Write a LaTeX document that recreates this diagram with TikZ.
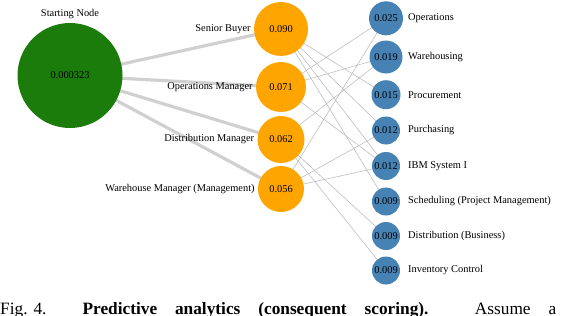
\documentclass[tikz,border=0pt]{standalone}
\usepackage{fontspec}
\setmainfont{Liberation Serif}
\usepackage{tikz}
\usetikzlibrary{positioning,backgrounds}
\definecolor{startgreen}{HTML}{1B7B0B}
\definecolor{roleorange}{HTML}{FFA500}
\definecolor{skillblue}{HTML}{4682B4}
\definecolor{edgegray}{HTML}{D0D0D0}
\definecolor{linkgray}{HTML}{BEBEBE}
\tikzset{
  nd/.style={circle,inner sep=0pt,font=\fontsize{10.4}{12}\selectfont},
  startn/.style={nd,fill=startgreen},
  rolen/.style={nd,fill=roleorange},
  skilln/.style={nd,fill=skillblue},
  lbl/.style={inner sep=0pt,font=\fontsize{10.4}{12}\selectfont},
  wt/.style={line width=3.2pt,draw=edgegray},
  ln/.style={line width=0.6pt,draw=linkgray},
}

\begin{document}
\begin{tikzpicture}[x=1pt,y=-1pt]
  \clip (0,0) rectangle (574,316);
  % start node
  \node[startn,minimum size=105pt] (s) at (70,75.5) {0.000323};
  \node[lbl,above=4pt of s] (sl) {Starting Node};
  % job titles
  \node[rolen,minimum size=54pt] (r1) at (281,29) {0.090};
  \node[rolen,minimum size=50pt] (r2) at (281,87) {0.071};
  \node[rolen,minimum size=47pt] (r3) at (281,139.5) {0.062};
  \node[rolen,minimum size=46pt] (r4) at (281,189) {0.056};
  \node[lbl,left=3pt of r1] (rl1) {Senior Buyer};
  \node[lbl,left=3pt of r2] (rl2) {Operations Manager};
  \node[lbl,left=3pt of r3] (rl3) {Distribution Manager};
  \node[lbl,left=3pt of r4] (rl4) {Warehouse Manager (Management)};
  % skills
  \node[skilln,minimum size=34pt] (k1) at (386,18.3) {0.025};
  \node[skilln,minimum size=33pt] (k2) at (386,57) {0.019};
  \node[skilln,minimum size=29pt] (k3) at (386,94.7) {0.015};
  \node[skilln,minimum size=28pt] (k4) at (386,130.5) {0.012};
  \node[skilln,minimum size=28pt] (k5) at (386,166) {0.012};
  \node[skilln,minimum size=28pt] (k6) at (386,201.5) {0.009};
  \node[skilln,minimum size=28pt] (k7) at (386,236) {0.009};
  \node[skilln,minimum size=28pt] (k8) at (386,270.5) {0.009};
  \node[lbl,right=22pt of k1.center] (kl1) {Operations};
  \node[lbl,right=22pt of k2.center] (kl2) {Warehousing};
  \node[lbl,right=22pt of k3.center] (kl3) {Procurement};
  \node[lbl,right=22pt of k4.center] (kl4) {Purchasing};
  \node[lbl,right=22pt of k5.center] (kl5) {IBM System I};
  \node[lbl,right=22pt of k6.center] (kl6) {Scheduling (Project Management)};
  \node[lbl,right=22pt of k7.center] (kl7) {Distribution (Business)};
  \node[lbl,right=22pt of k8.center] (kl8) {Inventory Control};
  % edges
  \begin{scope}[on background layer]
    \foreach \i in {1,...,4} \draw[wt] (s.center) -- (r\i.center);
    \foreach \a/\b in {1/3,1/4,1/5,1/6,2/1,2/2,2/5,3/2,3/7,3/8,4/1,4/4,4/5}
      \draw[ln] (r\a.center) -- (k\b.center);
  \end{scope}
  % caption (cut by the page edge)
  \node[anchor=base west,inner sep=0pt,font=\fontsize{17.3}{20}\selectfont] (cap) at (0,314)
    {\makebox[556pt][s]{Fig.\kern6pt4.\kern36pt\textbf{Predictive analytics (consequent scoring).} Assume a}};
\end{tikzpicture}
\end{document}
